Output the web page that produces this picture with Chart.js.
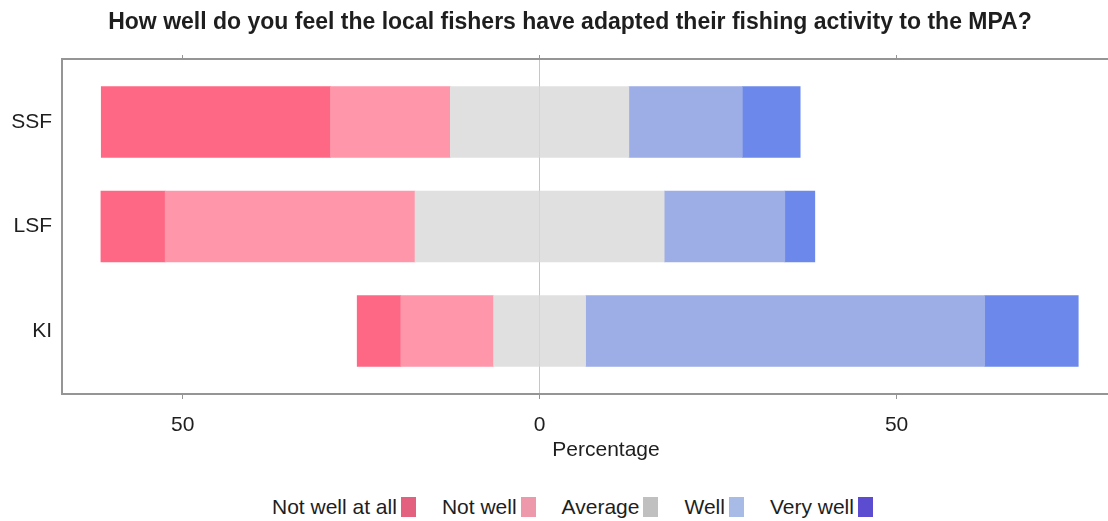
<!DOCTYPE html>
<html>
<head>
<meta charset="utf-8">
<script src="https://cdn.jsdelivr.net/npm/chart.js@4/dist/chart.umd.min.js"></script>
<style>
  html, body { margin: 0; padding: 0; background: #fff; overflow: hidden; width: 1108px; height: 521px; }
  #wrap { position: relative; width: 1108px; height: 521px; overflow: hidden; font-family: "Liberation Sans", Arial, sans-serif; color: #1e1e1e; }
  #title { position: absolute; left: 0; top: 8px; width: 1140px; text-align: center; font-weight: bold; font-size: 23px; line-height: 26px; }
  #chart { position: absolute; left: 0; top: 0; }
  #legend { position: absolute; left: 272px; top: 495px; display: flex; align-items: center; font-size: 21px; line-height: 24px; }
  .item { display: flex; align-items: center; margin-right: 26px; }
  .box { display: inline-block; width: 15px; height: 20px; margin-left: 4px; }
</style>
</head>
<body>
<div id="wrap">
  <canvas id="chart" width="1150" height="470"></canvas>
  <div id="title">How well do you feel the local fishers have adapted their fishing activity to the MPA?</div>
  <div id="legend"></div>
</div>
<script>
// Survey groups and response shares (%)
const categories = ['SSF', 'LSF', 'KI'];
const notWellAtAll = [32.1, 9.0, 6.1];
const notWell = [16.8, 35.0, 13.0];
const average = [25.0, 34.9, 12.9];
const well = [15.9, 16.9, 55.9];
const veryWell = [8.1, 4.2, 13.1];
const tickValues = [-50, 0, 50];

const responseLabels = ['Not well at all', 'Not well', 'Average', 'Well', 'Very well'];
const barColors = ['#ff6885', '#ff96a9', '#e0e0e0', '#9dade6', '#6b88ea'];
const legendColors = ['#e4607f', '#ee98ac', '#c0c0c0', '#a8bae6', '#5c4cd0'];

const toPoints = vals => vals.map((v, i) => ({ x: v, y: i }));
const neg = vals => vals.map(v => -v);
const half = (vals, sign) => vals.map(v => sign * v / 2);

// Negative side stacks outward from zero: half of "Average", then "Not well", then "Not well at all".
// Positive side: other half of "Average", then "Well", then "Very well".
const datasets = [
  { label: 'Average', data: toPoints(half(average, -1)), backgroundColor: barColors[2] },
  { label: 'Average', data: toPoints(half(average, 1)), backgroundColor: barColors[2] },
  { label: 'Not well', data: toPoints(neg(notWell)), backgroundColor: barColors[1] },
  { label: 'Well', data: toPoints(well), backgroundColor: barColors[3] },
  { label: 'Not well at all', data: toPoints(neg(notWellAtAll)), backgroundColor: barColors[0] },
  { label: 'Very well', data: toPoints(veryWell), backgroundColor: barColors[4] }
];

const frameColor = '#959595';
const textColor = '#1e1e1e';
const font = { family: '"Liberation Sans", Arial, sans-serif', size: 21 };
const xMin = -66.9;
const xMax = 85.5;
const setTicks = s => { s.ticks = tickValues.map(v => ({ value: v })); };

new Chart(document.getElementById('chart'), {
  type: 'bar',
  data: { datasets },
  options: {
    indexAxis: 'y',
    responsive: false,
    animation: false,
    devicePixelRatio: 1,
    layout: { padding: 0 },
    datasets: { bar: { barThickness: 71, borderWidth: 0 } },
    plugins: { legend: { display: false }, tooltip: { enabled: false }, title: { display: false } },
    scales: {
      x: {
        type: 'linear', position: 'bottom', min: xMin, max: xMax, stacked: true,
        afterBuildTicks: setTicks,
        ticks: { callback: v => Math.abs(v), font, color: textColor, padding: 14 },
        grid: {
          color: ctx => (ctx.tick && ctx.tick.value === 0 ? '#c6c6c6' : 'rgba(0,0,0,0)'),
          tickColor: frameColor, tickLength: 5, lineWidth: 1
        },
        border: { color: frameColor, width: 2 },
        title: { display: true, text: 'Percentage', font, color: textColor, padding: { top: 0, bottom: 7 } },
        afterFit: s => { s.height = 76; }
      },
      xTop: {
        type: 'linear', position: 'top', min: xMin, max: xMax,
        afterBuildTicks: setTicks,
        ticks: { display: false },
        grid: { drawOnChartArea: false, tickColor: frameColor, tickLength: 4 },
        border: { color: frameColor, width: 2 },
        afterFit: s => { s.height = 59; }
      },
      y: {
        type: 'linear', reverse: true, min: -0.603, max: 2.603, stacked: true, offset: false,
        afterBuildTicks: s => { s.ticks = categories.map((_, i) => ({ value: i })); },
        ticks: { callback: v => categories[v], font, color: textColor, padding: 10 },
        grid: { display: false, drawTicks: false, offset: false },
        border: { display: true, color: frameColor, width: 2 },
        afterFit: s => { s.width = 62; }
      }
    }
  }
});

// Legend: label text followed by its colour swatch
const legend = document.getElementById('legend');
responseLabels.forEach((name, i) => {
  const item = document.createElement('div');
  item.className = 'item';
  const txt = document.createElement('span');
  txt.textContent = name;
  const box = document.createElement('span');
  box.className = 'box';
  box.style.background = legendColors[i];
  item.appendChild(txt);
  item.appendChild(box);
  legend.appendChild(item);
});
</script>
</body>
</html>
